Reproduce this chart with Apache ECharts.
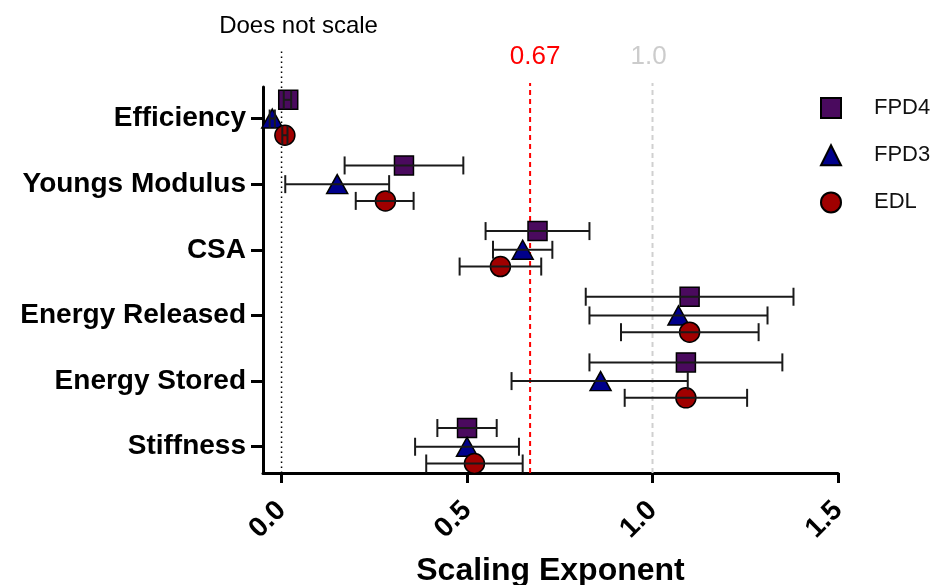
<!DOCTYPE html>
<html><head><meta charset="utf-8">
<script src="https://cdn.jsdelivr.net/npm/echarts@6/dist/echarts.min.js"></script>
<style>html,body{margin:0;padding:0;background:#fff}#c{width:938px;height:585px}</style>
</head><body><div id="c"></div>
<script>
// ---- data ----
const categories = ['Efficiency', 'Youngs Modulus', 'CSA', 'Energy Released', 'Energy Stored', 'Stiffness'];
const seriesNames = ['FPD4', 'FPD3', 'EDL'];

const fpd4Value = [0.018, 0.33, 0.69, 1.10, 1.09, 0.50];
const fpd4Low   = [0.006, 0.17, 0.55, 0.82, 0.83, 0.42];
const fpd4High  = [0.026, 0.49, 0.83, 1.38, 1.35, 0.58];

const fpd3Value = [-0.025, 0.15, 0.65, 1.07, 0.86, 0.50];
const fpd3Low   = [-0.032, 0.01, 0.57, 0.83, 0.62, 0.36];
const fpd3High  = [-0.018, 0.29, 0.73, 1.31, 1.095, 0.64];

const edlValue = [0.009, 0.28, 0.59, 1.10, 1.09, 0.52];
const edlLow   = [0.002, 0.20, 0.48, 0.915, 0.925, 0.39];
const edlHigh  = [0.016, 0.356, 0.70, 1.286, 1.255, 0.65];

const xTicks = [0, 0.5, 1.0, 1.5];
const refValues = [0, 0.67, 1.0];
const refLabels = ['Does not scale', '0.67', '1.0'];

// ---- styling / layout (not data) ----
const nCat = categories.length;
const yTickValues = categories.map((c, i) => nCat - i);
const groupOffset = [0.285, 0, -0.255];
const colors = ['#4a0a5e', '#00008b', '#a00000'];
const symbols = ['rect', 'triangle', 'circle'];
const symbolSizes = [19, [21, 19], 20];
const refStyles = [
  { stroke: '#000', lineWidth: 1.5, lineDash: [1.5, 3.5], ext: 37, labelColor: '#000', labelSize: 24, labelY: 26, labelDx: 17 },
  { stroke: '#ff0000', lineWidth: 2, lineDash: [5, 4], ext: 4, labelColor: '#ff0000', labelSize: 26, labelY: 57, labelDx: 5 },
  { stroke: '#d0d0d0', lineWidth: 2, lineDash: [5, 4], ext: 4, labelColor: '#cccccc', labelSize: 26, labelY: 57, labelDx: -4 }
];

const groups = [
  [fpd4Value, fpd4Low, fpd4High],
  [fpd3Value, fpd3Low, fpd3High],
  [edlValue, edlLow, edlHigh]
];

const series = [];

// reference lines
series.push({
  type: 'custom',
  name: 'ref',
  z: 1,
  clip: false,
  silent: true,
  data: refValues.map(v => [v]),
  encode: { x: 0 },
  renderItem: function (params, api) {
    const i = params.dataIndex;
    const st = refStyles[i];
    const x = api.value(0);
    const bottom = api.coord([x, 0.6]);
    const top = api.coord([x, 6.48]);
    return {
      type: 'group',
      children: [
        { type: 'line', shape: { x1: bottom[0], y1: bottom[1], x2: top[0], y2: top[1] - st.ext },
          style: { stroke: st.stroke, lineWidth: st.lineWidth, lineDash: st.lineDash } },
        { type: 'text', x: top[0] + st.labelDx, y: st.labelY,
          style: { text: refLabels[i], fill: st.labelColor, font: st.labelSize + 'px "Liberation Sans", Arial, sans-serif',
                   align: 'center', verticalAlign: 'middle' } }
      ]
    };
  }
});

groups.forEach((g, gi) => {
  const [vals, lows, highs] = g;
  series.push({
    type: 'scatter',
    name: seriesNames[gi],
    z: 2,
    symbol: symbols[gi],
    symbolSize: symbolSizes[gi],
    itemStyle: { color: colors[gi], borderColor: '#000', borderWidth: 1.5, opacity: 1 },
    data: vals.map((v, i) => [v, nCat - i + groupOffset[gi]])
  });
  series.push({
    type: 'custom',
    name: seriesNames[gi] + ' err',
    z: 3,
    silent: true,
    clip: false,
    data: vals.map((v, i) => [lows[i], highs[i], nCat - i + groupOffset[gi]]),
    encode: { x: [0, 1], y: 2 },
    renderItem: function (params, api) {
      const y = api.value(2);
      const a = api.coord([api.value(0), y]);
      const b = api.coord([api.value(1), y]);
      const h = 9;
      const s = { stroke: '#1a1a1a', lineWidth: 2 };
      return {
        type: 'group',
        children: [
          { type: 'line', shape: { x1: a[0], y1: a[1], x2: b[0], y2: b[1] }, style: s },
          { type: 'line', shape: { x1: a[0], y1: a[1] - h, x2: a[0], y2: a[1] + h }, style: s },
          { type: 'line', shape: { x1: b[0], y1: b[1] - h, x2: b[0], y2: b[1] + h }, style: s }
        ]
      };
    }
  });
});

const chart = echarts.init(document.getElementById('c'), null, { renderer: 'canvas' });
chart.setOption({
  animation: false,
  backgroundColor: '#fff',
  textStyle: { fontFamily: '"Liberation Sans", Arial, sans-serif' },
  grid: { left: 263, right: 100, top: 87, bottom: 112, containLabel: false, outerBoundsMode: 'none' },
  legend: {
    data: seriesNames,
    orient: 'vertical',
    left: 815,
    top: 92,
    itemWidth: 20,
    itemHeight: 20,
    itemGap: 25.2,
    selectedMode: false,
    textStyle: { fontSize: 22, color: '#111', padding: [0, 0, 0, 28] }
  },
  xAxis: {
    type: 'value',
    min: -0.05,
    max: 1.5,
    splitLine: { show: false },
    axisLine: { show: true, onZero: false, lineStyle: { color: '#000', width: 3 } },
    axisTick: { show: true, customValues: xTicks, length: 10, lineStyle: { color: '#000', width: 3 } },
    axisLabel: {
      customValues: xTicks,
      rotate: 45,
      margin: 33,
      fontSize: 28,
      fontWeight: 'bold',
      color: '#000',
      formatter: v => v.toFixed(1)
    },
    name: 'Scaling Exponent',
    nameLocation: 'middle',
    nameGap: 82,
    nameTextStyle: { fontSize: 32, fontWeight: 'bold', color: '#000' }
  },
  yAxis: {
    type: 'value',
    min: 0.6,
    max: 6.48,
    splitLine: { show: false },
    axisLine: { show: true, onZero: false, lineStyle: { color: '#000', width: 3 } },
    axisTick: { show: true, customValues: yTickValues, length: 12, lineStyle: { color: '#000', width: 3 } },
    axisLabel: {
      customValues: yTickValues,
      margin: 17,
      fontSize: 28,
      fontWeight: 'bold',
      color: '#000',
      formatter: v => categories[nCat - Math.round(v)]
    }
  },
  series: series
});
</script>
</body></html>
